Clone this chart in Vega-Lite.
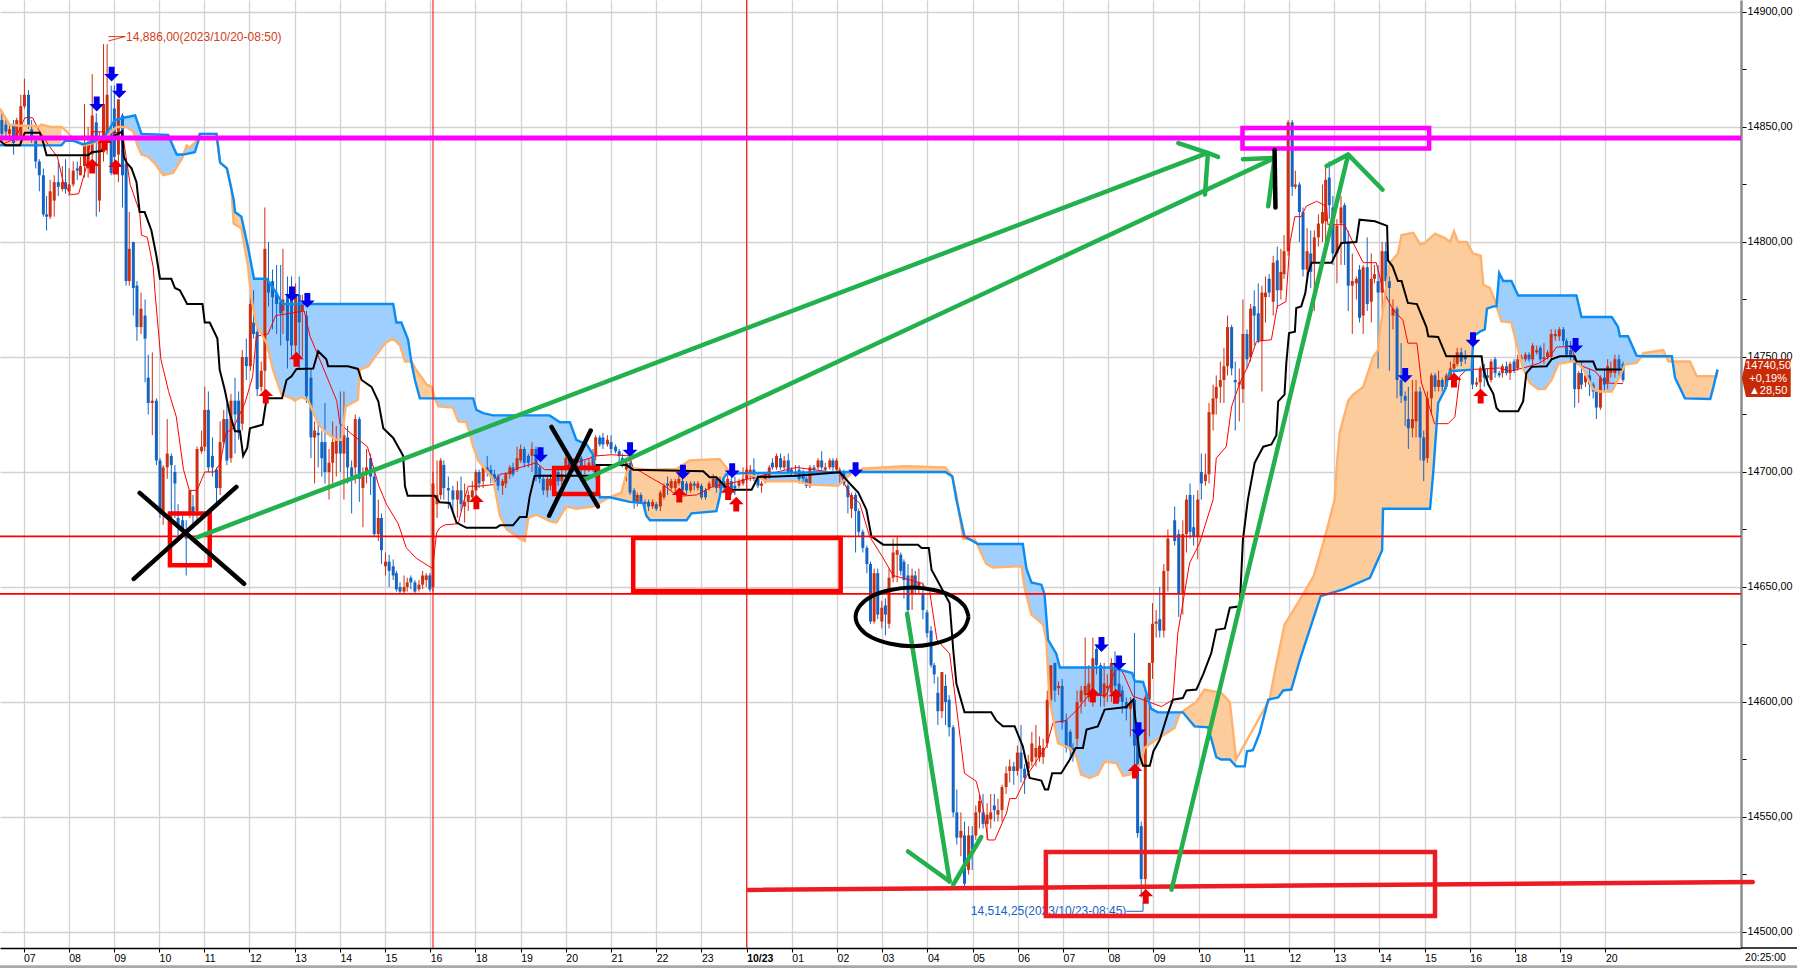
{"$schema":"https://vega.github.io/schema/vega-lite/v6.json","width":1741,"height":948,"autosize":"none","padding":{"left":0,"top":0,"right":56,"bottom":20},"background":"#ffffff","config":{"view":{"stroke":null}},
"datasets":{
"candles":[
{"t":-4.8,"o":14853,"c":14847,"h":14856,"l":14844},{"t":-3.9,"o":14851,"c":14848,"h":14853,"l":14845},{"t":-3.1,"o":14847,"c":14849,"h":14851,"l":14845},{"t":-2.2,"o":14851,"c":14843,"h":14853,"l":14838},{"t":-1.5,"o":14846,"c":14853,"h":14854,"l":14844},{"t":-0.6,"o":14845,"c":14859,"h":14864,"l":14842},{"t":0.2,"o":14859,"c":14864,"h":14871,"l":14858},{"t":1.1,"o":14864,"c":14850,"h":14866,"l":14849},{"t":1.8,"o":14849,"c":14846,"h":14853,"l":14843},{"t":2.7,"o":14844,"c":14835,"h":14846,"l":14832},{"t":3.5,"o":14835,"c":14829,"h":14836,"l":14822},{"t":4.4,"o":14829,"c":14812,"h":14832,"l":14811},{"t":5.1,"o":14812,"c":14811,"h":14820,"l":14805},{"t":5.9,"o":14811,"c":14822,"h":14827,"l":14810},{"t":6.8,"o":14818,"c":14826,"h":14829,"l":14811},{"t":7.7,"o":14826,"c":14824,"h":14835,"l":14820},{"t":8.6,"o":14823,"c":14826,"h":14833,"l":14822},{"t":9.3,"o":14826,"c":14823,"h":14836,"l":14821},{"t":10.1,"o":14822,"c":14825,"h":14832,"l":14820},{"t":11,"o":14825,"c":14831,"h":14835,"l":14824},{"t":11.9,"o":14832,"c":14831,"h":14835,"l":14827},{"t":12.6,"o":14829,"c":14833,"h":14837,"l":14829},{"t":13.5,"o":14833,"c":14843,"h":14860,"l":14828},{"t":14.3,"o":14832,"c":14842,"h":14850,"l":14828},{"t":15.2,"o":14838,"c":14855,"h":14873,"l":14835},{"t":16.1,"o":14852,"c":14846,"h":14856,"l":14811},{"t":16.8,"o":14818,"c":14846,"h":14848,"l":14813},{"t":17.7,"o":14839,"c":14860,"h":14886,"l":14835},{"t":18.5,"o":14848,"c":14864,"h":14886,"l":14838},{"t":19.4,"o":14848,"c":14830,"h":14868,"l":14829},{"t":20.1,"o":14858,"c":14837,"h":14868,"l":14835},{"t":21,"o":14838,"c":14862,"h":14862,"l":14826},{"t":21.9,"o":14855,"c":14829,"h":14856,"l":14815},{"t":22.7,"o":14834,"c":14783,"h":14835,"l":14781},
{"t":23.4,"o":14783,"c":14797,"h":14813,"l":14781},{"t":24.3,"o":14800,"c":14780,"h":14800,"l":14768},{"t":25.1,"o":14781,"c":14763,"h":14783,"l":14757},{"t":26,"o":14763,"c":14771,"h":14778,"l":14760},{"t":26.9,"o":14768,"c":14758,"h":14775,"l":14739},{"t":27.6,"o":14741,"c":14730,"h":14751,"l":14725},{"t":28.5,"o":14730,"c":14731,"h":14752,"l":14716},{"t":29.4,"o":14731,"c":14705,"h":14732,"l":14703},{"t":30.2,"o":14705,"c":14682,"h":14706,"l":14680},{"t":30.9,"o":14682,"c":14702,"h":14703,"l":14677},{"t":31.8,"o":14702,"c":14708,"h":14723,"l":14697},{"t":32.7,"o":14707,"c":14703,"h":14708,"l":14679},{"t":33.5,"o":14700,"c":14695,"h":14703,"l":14680},{"t":34.2,"o":14680,"c":14676,"h":14686,"l":14672},{"t":35.2,"o":14679,"c":14675,"h":14682,"l":14672},{"t":36,"o":14675,"c":14671,"h":14679,"l":14655},{"t":36.8,"o":14682,"c":14692,"h":14692,"l":14680},{"t":37.5,"o":14685,"c":14682,"h":14690,"l":14677},{"t":38.4,"o":14683,"c":14710,"h":14711,"l":14678},{"t":39.4,"o":14709,"c":14711,"h":14718,"l":14708},{"t":40.1,"o":14711,"c":14727,"h":14737,"l":14709},{"t":40.9,"o":14727,"c":14702,"h":14735,"l":14700},{"t":41.8,"o":14707,"c":14702,"h":14715,"l":14698},{"t":42.7,"o":14701,"c":14693,"h":14702,"l":14685},{"t":43.5,"o":14693,"c":14713,"h":14722,"l":14690},{"t":44.3,"o":14713,"c":14723,"h":14727,"l":14712},{"t":45,"o":14723,"c":14705,"h":14730,"l":14703},{"t":45.9,"o":14706,"c":14731,"h":14734,"l":14704},{"t":46.8,"o":14731,"c":14725,"h":14741,"l":14708},{"t":47.6,"o":14731,"c":14717,"h":14735,"l":14714},{"t":48.4,"o":14721,"c":14750,"h":14753,"l":14718},{"t":49.3,"o":14750,"c":14746,"h":14758,"l":14740},{"t":50.2,"o":14746,"c":14773,"h":14777,"l":14744},{"t":50.9,"o":14765,"c":14760,"h":14779,"l":14758},{"t":51.7,"o":14761,"c":14736,"h":14763,"l":14733},{"t":52.6,"o":14737,"c":14744,"h":14748,"l":14735},{"t":53.4,"o":14744,"c":14797,"h":14815,"l":14735},{"t":54.2,"o":14783,"c":14778,"h":14800,"l":14772},{"t":55.1,"o":14783,"c":14776,"h":14788,"l":14762},{"t":56,"o":14778,"c":14773,"h":14790,"l":14760},{"t":56.9,"o":14774,"c":14769,"h":14790,"l":14755},{"t":57.4,"o":14770,"c":14775,"h":14797,"l":14760},{"t":58.4,"o":14777,"c":14757,"h":14785,"l":14745},{"t":59.3,"o":14778,"c":14755,"h":14785,"l":14750},{"t":60.2,"o":14755,"c":14777,"h":14782,"l":14750},{"t":61,"o":14777,"c":14765,"h":14785,"l":14745},{"t":61.7,"o":14770,"c":14773,"h":14777,"l":14750},{"t":62.6,"o":14768,"c":14733,"h":14770,"l":14730},{"t":63.6,"o":14741,"c":14715,"h":14745,"l":14706},{"t":64.4,"o":14715,"c":14718,"h":14722,"l":14695},{"t":65.2,"o":14717,"c":14716,"h":14721,"l":14702},{"t":66,"o":14713,"c":14706,"h":14718,"l":14698},{"t":66.7,"o":14713,"c":14700,"h":14730,"l":14695},{"t":67.6,"o":14700,"c":14704,"h":14710,"l":14688},{"t":68.4,"o":14704,"c":14713,"h":14722,"l":14695},{"t":69.2,"o":14708,"c":14714,"h":14720,"l":14698},{"t":70.1,"o":14714,"c":14708,"h":14735,"l":14700},{"t":70.9,"o":14708,"c":14716,"h":14735,"l":14688},{"t":71.7,"o":14715,"c":14702,"h":14720,"l":14695},{"t":72.6,"o":14702,"c":14698,"h":14705,"l":14682},{"t":73.4,"o":14702,"c":14723,"h":14725,"l":14695},{"t":74.3,"o":14723,"c":14697,"h":14724,"l":14687},{"t":75.1,"o":14693,"c":14698,"h":14702,"l":14676},{"t":75.9,"o":14700,"c":14702,"h":14710,"l":14695},{"t":76.8,"o":14706,"c":14698,"h":14708,"l":14690},{"t":77.6,"o":14698,"c":14673,"h":14702,"l":14672},{"t":78.5,"o":14673,"c":14680,"h":14688,"l":14670},{"t":79.2,"o":14680,"c":14666,"h":14682,"l":14660},{"t":80.1,"o":14659,"c":14661,"h":14665,"l":14655},{"t":80.9,"o":14661,"c":14657,"h":14664,"l":14650},{"t":81.8,"o":14659,"c":14655,"h":14662,"l":14653},{"t":82.5,"o":14656,"c":14649,"h":14657,"l":14648},{"t":83.3,"o":14650,"c":14648,"h":14652,"l":14647},{"t":84.2,"o":14648,"c":14650,"h":14655,"l":14647},{"t":84.9,"o":14650,"c":14652,"h":14654,"l":14648},{"t":85.7,"o":14654,"c":14652,"h":14655,"l":14649},{"t":86.6,"o":14652,"c":14648,"h":14653,"l":14647},{"t":87.5,"o":14649,"c":14651,"h":14653,"l":14648},{"t":88.3,"o":14651,"c":14655,"h":14657,"l":14649},{"t":89.1,"o":14653,"c":14655,"h":14656,"l":14650},{"t":89.9,"o":14655,"c":14649,"h":14656,"l":14648},{"t":90.6,"o":14650,"c":14695,"h":14700,"l":14648},{"t":91.5,"o":14686,"c":14690,"h":14705,"l":14680},{"t":92.3,"o":14690,"c":14705,"h":14706,"l":14688},{"t":93,"o":14703,"c":14693,"h":14705,"l":14688},{"t":94,"o":14693,"c":14692,"h":14698,"l":14684},{"t":95,"o":14692,"c":14688,"h":14694,"l":14682},{"t":96,"o":14688,"c":14692,"h":14696,"l":14680},
{"t":96.8,"o":14692,"c":14686,"h":14698,"l":14683},{"t":97.6,"o":14685,"c":14687,"h":14695,"l":14678},{"t":98.4,"o":14687,"c":14690,"h":14692,"l":14683},{"t":99.3,"o":14689,"c":14692,"h":14696,"l":14688},{"t":100.1,"o":14692,"c":14700,"h":14701,"l":14690},{"t":100.8,"o":14700,"c":14695,"h":14701,"l":14693},{"t":101.7,"o":14696,"c":14702,"h":14703,"l":14693},{"t":102.6,"o":14702,"c":14700,"h":14707,"l":14698},{"t":103.4,"o":14701,"c":14698,"h":14703,"l":14695},{"t":104.2,"o":14699,"c":14697,"h":14701,"l":14692},{"t":105,"o":14698,"c":14694,"h":14699,"l":14692},{"t":106,"o":14694,"c":14696,"h":14697,"l":14690},{"t":106.7,"o":14695,"c":14699,"h":14700,"l":14693},{"t":107.6,"o":14699,"c":14702,"h":14703,"l":14697},{"t":108.3,"o":14702,"c":14699,"h":14704,"l":14698},{"t":109.2,"o":14701,"c":14706,"h":14711,"l":14700},{"t":110,"o":14705,"c":14710,"h":14712,"l":14704},{"t":110.8,"o":14710,"c":14704,"h":14711,"l":14702},{"t":111.7,"o":14707,"c":14704,"h":14708,"l":14702},{"t":112.5,"o":14707,"c":14710,"h":14713,"l":14700},{"t":113.4,"o":14710,"c":14699,"h":14711,"l":14696},{"t":114.2,"o":14702,"c":14697,"h":14703,"l":14695},{"t":115,"o":14697,"c":14692,"h":14698,"l":14690},{"t":115.9,"o":14692,"c":14697,"h":14698,"l":14689},{"t":116.6,"o":14694,"c":14697,"h":14699,"l":14692},{"t":117.5,"o":14697,"c":14700,"h":14702,"l":14695},{"t":118.3,"o":14700,"c":14696,"h":14701,"l":14694},{"t":119.1,"o":14696,"c":14699,"h":14701,"l":14693},{"t":120,"o":14701,"c":14706,"h":14708,"l":14698},{"t":120.8,"o":14706,"c":14702,"h":14707,"l":14700},{"t":121.7,"o":14702,"c":14704,"h":14706,"l":14700},{"t":122.5,"o":14704,"c":14706,"h":14708,"l":14700},{"t":123.4,"o":14706,"c":14701,"h":14707,"l":14699},{"t":124.2,"o":14701,"c":14703,"h":14705,"l":14699},{"t":125.1,"o":14702,"c":14704,"h":14706,"l":14700},{"t":126,"o":14702,"c":14707,"h":14710,"l":14700},{"t":126.6,"o":14707,"c":14715,"h":14716,"l":14705},{"t":127.5,"o":14715,"c":14712,"h":14716,"l":14711},{"t":128.2,"o":14715,"c":14712,"h":14717,"l":14710},{"t":129.2,"o":14712,"c":14714,"h":14716,"l":14711},{"t":130,"o":14713,"c":14710,"h":14716,"l":14708},{"t":131,"o":14711,"c":14709,"h":14712,"l":14708},{"t":131.8,"o":14709,"c":14707,"h":14710,"l":14703},{"t":132.5,"o":14706,"c":14704,"h":14708,"l":14702},{"t":133.4,"o":14701,"c":14704,"h":14705,"l":14696},{"t":134.2,"o":14704,"c":14691,"h":14706,"l":14690},{"t":135.1,"o":14692,"c":14687,"h":14693,"l":14684},{"t":135.8,"o":14687,"c":14690,"h":14691,"l":14685},{"t":136.6,"o":14690,"c":14687,"h":14691,"l":14686},{"t":137.5,"o":14687,"c":14686,"h":14688,"l":14684},{"t":138.3,"o":14687,"c":14685,"h":14688,"l":14683},{"t":139.2,"o":14685,"c":14687,"h":14688,"l":14684},{"t":140,"o":14686,"c":14684,"h":14687,"l":14683},{"t":140.9,"o":14685,"c":14691,"h":14692,"l":14683},{"t":141.7,"o":14689,"c":14694,"h":14695,"l":14688},{"t":142.5,"o":14695,"c":14694,"h":14698,"l":14690},{"t":143.3,"o":14693,"c":14696,"h":14697,"l":14692},{"t":144.2,"o":14693,"c":14696,"h":14697,"l":14691},{"t":145,"o":14695,"c":14697,"h":14700,"l":14694},{"t":145.8,"o":14696,"c":14692,"h":14697,"l":14690},{"t":146.7,"o":14695,"c":14692,"h":14696,"l":14690},{"t":147.6,"o":14692,"c":14695,"h":14696,"l":14691},{"t":148.4,"o":14695,"c":14694,"h":14696,"l":14692},{"t":149.2,"o":14693,"c":14695,"h":14696,"l":14692},{"t":150,"o":14694,"c":14689,"h":14695,"l":14688},{"t":150.9,"o":14692,"c":14689,"h":14693,"l":14688},{"t":151.7,"o":14693,"c":14695,"h":14696,"l":14692},{"t":152.6,"o":14694,"c":14697,"h":14699,"l":14693},{"t":153.3,"o":14697,"c":14693,"h":14698,"l":14691},{"t":154.1,"o":14693,"c":14696,"h":14698,"l":14692},{"t":155,"o":14696,"c":14693,"h":14697,"l":14692},{"t":155.8,"o":14693,"c":14697,"h":14701,"l":14692},{"t":156.6,"o":14696,"c":14692,"h":14698,"l":14690},{"t":157.4,"o":14694,"c":14693,"h":14698,"l":14690},{"t":158.3,"o":14694,"c":14696,"h":14697,"l":14693},{"t":159.2,"o":14695,"c":14697,"h":14702,"l":14694},{"t":160,"o":14697,"c":14701,"h":14702,"l":14696},{"t":160.8,"o":14698,"c":14701,"h":14703,"l":14696},{"t":161.6,"o":14701,"c":14697,"h":14706,"l":14696},{"t":162.5,"o":14698,"c":14694,"h":14699,"l":14693},{"t":163.3,"o":14694,"c":14695,"h":14696,"l":14691},{"t":164.1,"o":14696,"c":14699,"h":14700,"l":14695},{"t":165,"o":14698,"c":14702,"h":14703,"l":14697},{"t":165.7,"o":14704,"c":14702,"h":14706,"l":14701},{"t":166.6,"o":14702,"c":14707,"h":14708,"l":14701},{"t":167.5,"o":14706,"c":14702,"h":14708,"l":14701},{"t":168.3,"o":14702,"c":14705,"h":14707,"l":14701},{"t":169.2,"o":14705,"c":14700,"h":14708,"l":14699},{"t":169.9,"o":14701,"c":14700,"h":14702,"l":14698},{"t":170.8,"o":14699,"c":14700,"h":14703,"l":14698},{"t":171.6,"o":14701,"c":14697,"h":14703,"l":14695},{"t":172.5,"o":14700,"c":14697,"h":14701,"l":14695},{"t":173.2,"o":14697,"c":14694,"h":14698,"l":14693},{"t":174,"o":14694,"c":14702,"h":14703,"l":14693},{"t":174.9,"o":14702,"c":14701,"h":14703,"l":14700},{"t":175.8,"o":14702,"c":14705,"h":14706,"l":14701},{"t":176.6,"o":14705,"c":14702,"h":14709,"l":14701},{"t":177.4,"o":14701,"c":14702,"h":14704,"l":14700},{"t":178.4,"o":14702,"c":14705,"h":14706,"l":14701},{"t":179.1,"o":14705,"c":14702,"h":14706,"l":14700},{"t":179.9,"o":14701,"c":14705,"h":14706,"l":14700},{"t":180.6,"o":14700,"c":14701,"h":14702,"l":14695},{"t":181.5,"o":14700,"c":14695,"h":14701,"l":14694},{"t":182.4,"o":14694,"c":14689,"h":14695,"l":14682},{"t":183.2,"o":14684,"c":14690,"h":14691,"l":14680},{"t":184.1,"o":14690,"c":14683,"h":14691,"l":14665},
{"t":184.8,"o":14683,"c":14674,"h":14684,"l":14672},{"t":185.7,"o":14674,"c":14667,"h":14675,"l":14665},{"t":186.6,"o":14667,"c":14660,"h":14668,"l":14656},{"t":187.4,"o":14660,"c":14635,"h":14661,"l":14634},{"t":188.2,"o":14635,"c":14656,"h":14658,"l":14634},{"t":189,"o":14656,"c":14638,"h":14658,"l":14636},{"t":189.9,"o":14635,"c":14641,"h":14644,"l":14632},{"t":190.7,"o":14642,"c":14638,"h":14645,"l":14629},{"t":191.5,"o":14634,"c":14654,"h":14658,"l":14632},{"t":192.4,"o":14654,"c":14665,"h":14671,"l":14652},{"t":193.3,"o":14664,"c":14666,"h":14672,"l":14652},{"t":194.1,"o":14664,"c":14657,"h":14665,"l":14655},{"t":194.8,"o":14661,"c":14653,"h":14662,"l":14645},{"t":195.7,"o":14655,"c":14640,"h":14660,"l":14638},{"t":196.6,"o":14647,"c":14655,"h":14658,"l":14640},{"t":197.3,"o":14655,"c":14650,"h":14657,"l":14647},{"t":198.1,"o":14650,"c":14652,"h":14658,"l":14647},{"t":199,"o":14647,"c":14640,"h":14652,"l":14636},{"t":199.9,"o":14639,"c":14630,"h":14640,"l":14628},{"t":200.8,"o":14631,"c":14616,"h":14633,"l":14615},{"t":201.5,"o":14616,"c":14612,"h":14617,"l":14608},{"t":202.3,"o":14604,"c":14596,"h":14611,"l":14590},{"t":203.2,"o":14596,"c":14613,"h":14613,"l":14593},{"t":204,"o":14607,"c":14600,"h":14612,"l":14590},{"t":204.8,"o":14601,"c":14589,"h":14603,"l":14585},{"t":205.7,"o":14589,"c":14552,"h":14590,"l":14550},{"t":206.5,"o":14552,"c":14541,"h":14562,"l":14538},{"t":207.4,"o":14541,"c":14544,"h":14552,"l":14533},{"t":208.2,"o":14542,"c":14521,"h":14548,"l":14519},{"t":209.1,"o":14527,"c":14542,"h":14546,"l":14525},{"t":209.9,"o":14542,"c":14536,"h":14546,"l":14527},{"t":210.7,"o":14542,"c":14552,"h":14555,"l":14540},{"t":211.5,"o":14552,"c":14557,"h":14560,"l":14545},{"t":212.3,"o":14552,"c":14547,"h":14560,"l":14545},{"t":213.2,"o":14547,"c":14551,"h":14556,"l":14540},{"t":214,"o":14549,"c":14552,"h":14560,"l":14545},{"t":214.8,"o":14555,"c":14553,"h":14560,"l":14548},{"t":215.6,"o":14551,"c":14553,"h":14558,"l":14548},{"t":216.5,"o":14553,"c":14563,"h":14564,"l":14548},{"t":217.4,"o":14563,"c":14569,"h":14572,"l":14560},{"t":218.2,"o":14570,"c":14572,"h":14575,"l":14565},{"t":219.1,"o":14572,"c":14570,"h":14574,"l":14564},{"t":219.9,"o":14570,"c":14578,"h":14581,"l":14568},{"t":220.7,"o":14578,"c":14571,"h":14590,"l":14565},{"t":221.5,"o":14571,"c":14567,"h":14573,"l":14560},{"t":222.3,"o":14571,"c":14574,"h":14577,"l":14568},{"t":223.1,"o":14574,"c":14582,"h":14587,"l":14572},{"t":224,"o":14576,"c":14580,"h":14590,"l":14572},{"t":224.8,"o":14576,"c":14581,"h":14585,"l":14574},{"t":225.6,"o":14576,"c":14580,"h":14584,"l":14573},{"t":226.5,"o":14582,"c":14601,"h":14605,"l":14580},{"t":227.3,"o":14601,"c":14616,"h":14616,"l":14598},{"t":228.2,"o":14617,"c":14605,"h":14617,"l":14600},{"t":229,"o":14606,"c":14607,"h":14609,"l":14603},{"t":229.8,"o":14607,"c":14591,"h":14610,"l":14588},{"t":230.7,"o":14592,"c":14580,"h":14595,"l":14578},{"t":231.6,"o":14587,"c":14579,"h":14588,"l":14575},{"t":232.2,"o":14580,"c":14577,"h":14582,"l":14574},{"t":233.1,"o":14584,"c":14600,"h":14605,"l":14580},{"t":234,"o":14600,"c":14605,"h":14607,"l":14595},{"t":234.9,"o":14603,"c":14607,"h":14628,"l":14598},{"t":235.7,"o":14602,"c":14608,"h":14616,"l":14600},{"t":236.6,"o":14602,"c":14619,"h":14628,"l":14598},{"t":237.4,"o":14623,"c":14616,"h":14625,"l":14612},{"t":238.3,"o":14616,"c":14603,"h":14617,"l":14598},{"t":239.1,"o":14602,"c":14608,"h":14617,"l":14598},{"t":239.8,"o":14606,"c":14607,"h":14612,"l":14600},{"t":240.7,"o":14604,"c":14617,"h":14619,"l":14600},{"t":241.5,"o":14617,"c":14607,"h":14622,"l":14605},{"t":242.4,"o":14608,"c":14602,"h":14616,"l":14600},{"t":243.1,"o":14605,"c":14600,"h":14607,"l":14595},{"t":244,"o":14600,"c":14597,"h":14602,"l":14592},{"t":244.9,"o":14597,"c":14600,"h":14602,"l":14585},{"t":245.8,"o":14601,"c":14581,"h":14630,"l":14570},{"t":246.5,"o":14589,"c":14543,"h":14590,"l":14541},{"t":247.3,"o":14546,"c":14523,"h":14548,"l":14515},{"t":248.2,"o":14523,"c":14602,"h":14603,"l":14515},{"t":249.1,"o":14601,"c":14617,"h":14617,"l":14585},{"t":249.8,"o":14617,"c":14634,"h":14643,"l":14610},{"t":250.6,"o":14634,"c":14635,"h":14640,"l":14628},{"t":251.4,"o":14636,"c":14631,"h":14650,"l":14628},{"t":252.3,"o":14631,"c":14657,"h":14660,"l":14628},{"t":253.2,"o":14657,"c":14671,"h":14675,"l":14648},{"t":254.7,"o":14679,"c":14670,"h":14685,"l":14668},{"t":255.6,"o":14673,"c":14647,"h":14675,"l":14637},{"t":256.5,"o":14647,"c":14673,"h":14679,"l":14638},{"t":257.3,"o":14673,"c":14688,"h":14690,"l":14665},{"t":258.1,"o":14690,"c":14674,"h":14695,"l":14671},{"t":258.9,"o":14676,"c":14672,"h":14690,"l":14668},{"t":259.8,"o":14672,"c":14688,"h":14692,"l":14662},
{"t":260.6,"o":14700,"c":14695,"h":14708,"l":14688},{"t":261.5,"o":14696,"c":14699,"h":14708,"l":14694},{"t":262.3,"o":14699,"c":14726,"h":14730,"l":14695},{"t":263.2,"o":14725,"c":14732,"h":14738,"l":14718},{"t":263.9,"o":14732,"c":14737,"h":14742,"l":14725},{"t":264.8,"o":14737,"c":14740,"h":14748,"l":14730},{"t":265.6,"o":14740,"c":14746,"h":14754,"l":14730},{"t":266.4,"o":14746,"c":14763,"h":14768,"l":14742},{"t":267.3,"o":14763,"c":14745,"h":14764,"l":14742},{"t":268.1,"o":14740,"c":14739,"h":14748,"l":14718},{"t":269,"o":14738,"c":14739,"h":14745,"l":14722},{"t":269.8,"o":14736,"c":14760,"h":14775,"l":14730},{"t":270.7,"o":14760,"c":14749,"h":14762,"l":14745},{"t":271.5,"o":14750,"c":14771,"h":14773,"l":14748},{"t":272.3,"o":14772,"c":14768,"h":14779,"l":14755},{"t":273.2,"o":14769,"c":14757,"h":14782,"l":14756},{"t":274,"o":14757,"c":14778,"h":14781,"l":14735},{"t":274.8,"o":14776,"c":14778,"h":14785,"l":14765},{"t":275.6,"o":14784,"c":14778,"h":14786,"l":14776},{"t":276.5,"o":14774,"c":14791,"h":14794,"l":14768},{"t":277.4,"o":14792,"c":14779,"h":14798,"l":14771},{"t":278.2,"o":14779,"c":14787,"h":14797,"l":14775},{"t":278.9,"o":14786,"c":14796,"h":14803,"l":14784},{"t":279.8,"o":14796,"c":14852,"h":14853,"l":14794},{"t":280.7,"o":14852,"c":14824,"h":14853,"l":14820},{"t":281.4,"o":14824,"c":14825,"h":14831,"l":14823},{"t":282.3,"o":14825,"c":14813,"h":14826,"l":14800},{"t":283.1,"o":14813,"c":14788,"h":14815,"l":14785},{"t":284,"o":14788,"c":14796,"h":14806,"l":14785},{"t":284.8,"o":14795,"c":14787,"h":14805,"l":14780},{"t":285.6,"o":14791,"c":14802,"h":14805,"l":14770},{"t":286.5,"o":14802,"c":14808,"h":14812,"l":14798},{"t":287.4,"o":14808,"c":14813,"h":14825,"l":14800},{"t":288.1,"o":14809,"c":14827,"h":14833,"l":14800},{"t":288.9,"o":14828,"c":14816,"h":14835,"l":14810},{"t":289.7,"o":14815,"c":14795,"h":14820,"l":14790},{"t":290.6,"o":14795,"c":14807,"h":14810,"l":14782},{"t":291.5,"o":14808,"c":14815,"h":14820,"l":14790},{"t":292.3,"o":14816,"c":14800,"h":14817,"l":14790},{"t":293.1,"o":14800,"c":14781,"h":14805,"l":14770},{"t":294,"o":14781,"c":14783,"h":14795,"l":14760},{"t":294.9,"o":14782,"c":14784,"h":14785,"l":14775},{"t":295.6,"o":14788,"c":14767,"h":14790,"l":14765},{"t":296.4,"o":14768,"c":14789,"h":14790,"l":14760},{"t":297.3,"o":14789,"c":14773,"h":14802,"l":14770},{"t":298.2,"o":14774,"c":14784,"h":14795,"l":14765},{"t":298.9,"o":14784,"c":14786,"h":14790,"l":14782},{"t":299.7,"o":14783,"c":14778,"h":14790,"l":14745},
{"t":300.6,"o":14778,"c":14796,"h":14800,"l":14770},{"t":301.4,"o":14796,"c":14783,"h":14800,"l":14775},{"t":302.2,"o":14783,"c":14780,"h":14785,"l":14744},{"t":303,"o":14768,"c":14771,"h":14775,"l":14762},{"t":303.9,"o":14771,"c":14740,"h":14772,"l":14732},{"t":304.8,"o":14740,"c":14733,"h":14756,"l":14730},{"t":305.7,"o":14733,"c":14731,"h":14735,"l":14720},{"t":306.4,"o":14723,"c":14719,"h":14737,"l":14710},{"t":307.3,"o":14719,"c":14723,"h":14740,"l":14715},{"t":308.1,"o":14722,"c":14735,"h":14740,"l":14715},{"t":309,"o":14735,"c":14715,"h":14737,"l":14705},{"t":309.8,"o":14715,"c":14705,"h":14718,"l":14696},{"t":310.6,"o":14706,"c":14732,"h":14735,"l":14704},{"t":311.5,"o":14732,"c":14742,"h":14743,"l":14725},{"t":312.3,"o":14742,"c":14737,"h":14743,"l":14735},{"t":313.1,"o":14737,"c":14740,"h":14744,"l":14735},{"t":313.9,"o":14740,"c":14737,"h":14741,"l":14735},{"t":314.8,"o":14737,"c":14742,"h":14743,"l":14736},{"t":315.7,"o":14742,"c":14745,"h":14748,"l":14740},{"t":316.5,"o":14745,"c":14747,"h":14750,"l":14743},{"t":317.2,"o":14747,"c":14752,"h":14754,"l":14746},{"t":318.1,"o":14752,"c":14748,"h":14754,"l":14746},{"t":319,"o":14750,"c":14749,"h":14753,"l":14747},{"t":320.6,"o":14750,"c":14738,"h":14750,"l":14736},{"t":321.5,"o":14738,"c":14739,"h":14741,"l":14737},{"t":322.3,"o":14739,"c":14745,"h":14746,"l":14735},{"t":323.2,"o":14745,"c":14741,"h":14747,"l":14737},{"t":323.9,"o":14742,"c":14741,"h":14745,"l":14738},{"t":324.7,"o":14740,"c":14748,"h":14749,"l":14739},{"t":325.6,"o":14749,"c":14743,"h":14750,"l":14741},{"t":326.5,"o":14743,"c":14742,"h":14744,"l":14741},{"t":327.2,"o":14743,"c":14746,"h":14747,"l":14741},{"t":328.1,"o":14746,"c":14743,"h":14748,"l":14742},{"t":328.9,"o":14743,"c":14747,"h":14748,"l":14740},{"t":329.8,"o":14748,"c":14744,"h":14749,"l":14743},{"t":330.6,"o":14745,"c":14749,"h":14751,"l":14744},{"t":331.4,"o":14749,"c":14750,"h":14751,"l":14748},{"t":332.3,"o":14749,"c":14751,"h":14752,"l":14748},{"t":333.1,"o":14751,"c":14749,"h":14752,"l":14748},{"t":333.9,"o":14749,"c":14755,"h":14756,"l":14746},{"t":334.8,"o":14752,"c":14753,"h":14755,"l":14751},{"t":335.6,"o":14754,"c":14749,"h":14755,"l":14748},{"t":336.4,"o":14749,"c":14750,"h":14756,"l":14747},{"t":337.2,"o":14750,"c":14752,"h":14753,"l":14749},{"t":338,"o":14750,"c":14760,"h":14762,"l":14749},{"t":338.9,"o":14759,"c":14760,"h":14762,"l":14757},{"t":339.8,"o":14759,"c":14762,"h":14763,"l":14757},{"t":340.7,"o":14762,"c":14757,"h":14763,"l":14755},{"t":341.4,"o":14757,"c":14751,"h":14758,"l":14750},{"t":342.3,"o":14753,"c":14750,"h":14757,"l":14748},{"t":343.2,"o":14750,"c":14736,"h":14751,"l":14728},{"t":344.1,"o":14736,"c":14743,"h":14744,"l":14730},{"t":344.7,"o":14743,"c":14738,"h":14748,"l":14736},{"t":345.6,"o":14739,"c":14742,"h":14743,"l":14737},{"t":346.5,"o":14742,"c":14738,"h":14745,"l":14733},{"t":347.3,"o":14738,"c":14735,"h":14739,"l":14732},{"t":348,"o":14735,"c":14728,"h":14735,"l":14723},{"t":348.9,"o":14728,"c":14741,"h":14742,"l":14727},{"t":349.8,"o":14741,"c":14738,"h":14745,"l":14735},{"t":350.5,"o":14739,"c":14746,"h":14749,"l":14736},{"t":351.2,"o":14743,"c":14745,"h":14748,"l":14741},{"t":352.1,"o":14743,"c":14749,"h":14751,"l":14741},{"t":353,"o":14749,"c":14745,"h":14751,"l":14742},{"t":353.9,"o":14747,"c":14740,"h":14748,"l":14739}],
"cloud":[
{"s":"A","seg":"O1","t":-5.2,"p":14858},{"s":"A","seg":"O1","t":-3.1,"p":14851},{"s":"A","seg":"O1","t":-0.8,"p":14850.5},{"s":"A","seg":"O1","t":2,"p":14850.5},{"s":"A","seg":"O1","t":3.3,"p":14850},{"s":"A","seg":"O1","t":4,"p":14851},{"s":"A","seg":"O1","t":5.9,"p":14850},{"s":"A","seg":"O1","t":8.4,"p":14850},{"s":"A","seg":"","t":9.6,"p":14848},{"s":"A","seg":"","t":11.4,"p":14844},{"s":"A","seg":"","t":13.2,"p":14842},{"s":"A","seg":"","t":15.4,"p":14843},{"s":"A","seg":"","t":17.7,"p":14845},{"s":"A","seg":"","t":19.5,"p":14848},
{"s":"A","seg":"B1","t":20.6,"p":14850},{"s":"A","seg":"B1","t":22.8,"p":14850},{"s":"A","seg":"B1","t":24.3,"p":14848},{"s":"A","seg":"B1","t":25.2,"p":14842},{"s":"A","seg":"B1","t":26.1,"p":14838},{"s":"A","seg":"B1","t":27.6,"p":14837},{"s":"A","seg":"B1","t":29.1,"p":14834},{"s":"A","seg":"B1","t":30.9,"p":14829},{"s":"A","seg":"B1","t":33.1,"p":14830},{"s":"A","seg":"B1","t":35,"p":14836},{"s":"A","seg":"B1","t":36.1,"p":14842},{"s":"A","seg":"B1","t":36.8,"p":14841},{"s":"A","seg":"B1","t":38.3,"p":14844},{"s":"A","seg":"B1","t":39,"p":14847},{"s":"A","seg":"","t":42.7,"p":14847},{"s":"A","seg":"","t":43.5,"p":14834.5},{"s":"A","seg":"","t":45,"p":14832},{"s":"A","seg":"","t":46,"p":14823},
{"s":"A","seg":"O9","t":46.5,"p":14808},{"s":"A","seg":"O9","t":48.2,"p":14806},{"s":"A","seg":"O9","t":49.7,"p":14789},
{"s":"A","seg":"B2","t":49.7,"p":14789},{"s":"A","seg":"B2","t":50.4,"p":14776},{"s":"A","seg":"B2","t":51.5,"p":14764},{"s":"A","seg":"B2","t":53.8,"p":14756},{"s":"A","seg":"B2","t":55.2,"p":14744.5},{"s":"A","seg":"B2","t":57.1,"p":14733.6},{"s":"A","seg":"B2","t":59.3,"p":14732},{"s":"A","seg":"B2","t":60,"p":14731},{"s":"A","seg":"B2","t":61.5,"p":14732.6},{"s":"A","seg":"B2","t":63,"p":14731},{"s":"A","seg":"B2","t":65.2,"p":14721},{"s":"A","seg":"B2","t":67,"p":14717},{"s":"A","seg":"B2","t":69.2,"p":14714},{"s":"A","seg":"B2","t":70.4,"p":14714},{"s":"A","seg":"B2","t":71.3,"p":14728.5},{"s":"A","seg":"B2","t":74,"p":14731.4},{"s":"A","seg":"B2","t":74.4,"p":14744.5},{"s":"A","seg":"B2","t":76.3,"p":14746},{"s":"A","seg":"B2","t":78.1,"p":14751},{"s":"A","seg":"B2","t":80,"p":14756},{"s":"A","seg":"B2","t":81.8,"p":14758},{"s":"A","seg":"B2","t":83.3,"p":14755},{"s":"A","seg":"B2","t":84.4,"p":14748},{"s":"A","seg":"B2","t":85.8,"p":14748},
{"s":"A","seg":"O2","t":85.8,"p":14748},{"s":"A","seg":"O2","t":87,"p":14744},{"s":"A","seg":"O2","t":89.2,"p":14738},{"s":"A","seg":"O2","t":90.3,"p":14737},{"s":"A","seg":"O2","t":91,"p":14732},
{"s":"A","seg":"B3","t":91,"p":14732},{"s":"A","seg":"B3","t":91.8,"p":14728.5},{"s":"A","seg":"B3","t":95,"p":14728},{"s":"A","seg":"B3","t":96.2,"p":14722},{"s":"A","seg":"B3","t":98,"p":14721.6},{"s":"A","seg":"B3","t":99.5,"p":14711},{"s":"A","seg":"B3","t":100.6,"p":14705},{"s":"A","seg":"B3","t":103.9,"p":14697},{"s":"A","seg":"B3","t":105.4,"p":14681},{"s":"A","seg":"B3","t":106.9,"p":14675},{"s":"A","seg":"B3","t":109.8,"p":14671},{"s":"A","seg":"B3","t":110.9,"p":14670},{"s":"A","seg":"B3","t":111.7,"p":14680},{"s":"A","seg":"B3","t":113.5,"p":14681.4},{"s":"A","seg":"B3","t":116.4,"p":14678.6},{"s":"A","seg":"B3","t":117.9,"p":14678},{"s":"A","seg":"B3","t":120.1,"p":14685},{"s":"A","seg":"B3","t":122.3,"p":14684},{"s":"A","seg":"B3","t":126,"p":14685},{"s":"A","seg":"B3","t":129.7,"p":14689},
{"s":"A","seg":"O3","t":129.7,"p":14689},{"s":"A","seg":"O3","t":132.3,"p":14691},{"s":"A","seg":"O3","t":133.4,"p":14699.6},{"s":"A","seg":"O3","t":134.1,"p":14701.7},{"s":"A","seg":"O3","t":138.6,"p":14701},{"s":"A","seg":"O3","t":144.5,"p":14701.3},{"s":"A","seg":"O3","t":147.4,"p":14705},{"s":"A","seg":"O3","t":154,"p":14705.6},{"s":"A","seg":"O3","t":155.9,"p":14701},{"s":"A","seg":"O3","t":159.2,"p":14699.5},
{"s":"A","seg":"B4","t":159.2,"p":14699.5},{"s":"A","seg":"B4","t":162.2,"p":14698},{"s":"A","seg":"B4","t":164.4,"p":14696},{"s":"A","seg":"B4","t":171,"p":14696},{"s":"A","seg":"B4","t":174,"p":14694.5},{"s":"A","seg":"B4","t":180.2,"p":14694},{"s":"A","seg":"B4","t":182.4,"p":14698},{"s":"A","seg":"B4","t":183.5,"p":14700},
{"s":"A","seg":"O4","t":183.5,"p":14700},{"s":"A","seg":"O4","t":186,"p":14701.5},{"s":"A","seg":"O4","t":195,"p":14702.5},{"s":"A","seg":"O4","t":204,"p":14702},{"s":"A","seg":"O4","t":205.5,"p":14698},{"s":"A","seg":"","t":206.4,"p":14690},
{"s":"A","seg":"B5","t":207.9,"p":14671},{"s":"A","seg":"B5","t":210.5,"p":14670.6},{"s":"A","seg":"B5","t":213,"p":14660},{"s":"A","seg":"B5","t":214.5,"p":14658.5},{"s":"A","seg":"B5","t":220.8,"p":14659},{"s":"A","seg":"B5","t":221.5,"p":14649.6},{"s":"A","seg":"B5","t":223,"p":14638},{"s":"A","seg":"B5","t":225.6,"p":14633.6},{"s":"A","seg":"B5","t":226.3,"p":14627},{"s":"A","seg":"B5","t":227,"p":14601},{"s":"A","seg":"B5","t":228.9,"p":14582},{"s":"A","seg":"B5","t":231.5,"p":14580},{"s":"A","seg":"B5","t":233,"p":14576},{"s":"A","seg":"B5","t":234,"p":14568.4},{"s":"A","seg":"B5","t":235.9,"p":14567},{"s":"A","seg":"B5","t":237.7,"p":14568.4},{"s":"A","seg":"B5","t":239.2,"p":14574},{"s":"A","seg":"B5","t":241.8,"p":14573.5},{"s":"A","seg":"B5","t":243.3,"p":14568},{"s":"A","seg":"B5","t":244.8,"p":14568.4},{"s":"A","seg":"B5","t":247.3,"p":14573.5},{"s":"A","seg":"B5","t":248,"p":14580},{"s":"A","seg":"B5","t":250.6,"p":14583.6},{"s":"A","seg":"B5","t":254.7,"p":14588.7},{"s":"A","seg":"B5","t":255.8,"p":14595},
{"s":"A","seg":"O5","t":255.8,"p":14595},{"s":"A","seg":"O5","t":259.5,"p":14600},{"s":"A","seg":"O5","t":261.3,"p":14605.4},{"s":"A","seg":"O5","t":265,"p":14604},{"s":"A","seg":"O5","t":266.9,"p":14600},{"s":"A","seg":"O5","t":268.3,"p":14575},
{"s":"A","seg":"O6","t":275.7,"p":14601},{"s":"A","seg":"O6","t":276.8,"p":14612.6},{"s":"A","seg":"O6","t":279,"p":14633.6},{"s":"A","seg":"O6","t":282.4,"p":14644.5},{"s":"A","seg":"O6","t":285.5,"p":14655},{"s":"A","seg":"O6","t":288,"p":14672},{"s":"A","seg":"O6","t":290.1,"p":14688},{"s":"A","seg":"O6","t":290.5,"p":14701},{"s":"A","seg":"O6","t":291.2,"p":14717},{"s":"A","seg":"O6","t":293.1,"p":14731},{"s":"A","seg":"O6","t":294.2,"p":14733.6},{"s":"A","seg":"O6","t":296.4,"p":14737},{"s":"A","seg":"O6","t":298.6,"p":14750},{"s":"A","seg":"O6","t":299.7,"p":14753},{"s":"A","seg":"O6","t":300.1,"p":14761},{"s":"A","seg":"O6","t":302.3,"p":14791},{"s":"A","seg":"O6","t":304.1,"p":14795},{"s":"A","seg":"O6","t":304.9,"p":14803},{"s":"A","seg":"O6","t":307.5,"p":14804},{"s":"A","seg":"O6","t":309,"p":14799},{"s":"A","seg":"O6","t":310,"p":14799.5},{"s":"A","seg":"O6","t":312.3,"p":14803.6},{"s":"A","seg":"O6","t":314.5,"p":14801.7},{"s":"A","seg":"O6","t":315.6,"p":14800},{"s":"A","seg":"O6","t":316.5,"p":14804.6},{"s":"A","seg":"O6","t":317.4,"p":14800},{"s":"A","seg":"O6","t":319.3,"p":14800},{"s":"A","seg":"O6","t":320.7,"p":14795},{"s":"A","seg":"O6","t":322.4,"p":14794},{"s":"A","seg":"O6","t":323,"p":14781.4},{"s":"A","seg":"O6","t":324.4,"p":14780},{"s":"A","seg":"O6","t":325.5,"p":14775},{"s":"A","seg":"O6","t":325.9,"p":14772},
{"s":"A","seg":"B6","t":325.9,"p":14772},{"s":"A","seg":"B6","t":327,"p":14765.5},{"s":"A","seg":"B6","t":329.2,"p":14765},{"s":"A","seg":"B6","t":330.3,"p":14756},{"s":"A","seg":"B6","t":331.8,"p":14745},{"s":"A","seg":"B6","t":333.3,"p":14738.7},{"s":"A","seg":"B6","t":335.1,"p":14736},{"s":"A","seg":"B6","t":336.6,"p":14736},{"s":"A","seg":"B6","t":338.1,"p":14740},{"s":"A","seg":"B6","t":339.6,"p":14747},{"s":"A","seg":"B6","t":342.5,"p":14748},{"s":"A","seg":"B6","t":343.5,"p":14748},{"s":"A","seg":"B6","t":345,"p":14745},{"s":"A","seg":"B6","t":347.3,"p":14736},{"s":"A","seg":"B6","t":348.8,"p":14735},{"s":"A","seg":"B6","t":351.4,"p":14735},{"s":"A","seg":"B6","t":353.2,"p":14741.6},{"s":"A","seg":"B6","t":354.3,"p":14746.7},{"s":"A","seg":"B6","t":356.9,"p":14747.4},{"s":"A","seg":"B6","t":358,"p":14750.3},
{"s":"A","seg":"O7","t":358,"p":14750.3},{"s":"A","seg":"O7","t":358.4,"p":14751.7},{"s":"A","seg":"O7","t":362.8,"p":14753},{"s":"A","seg":"O7","t":363.4,"p":14750.3},
{"s":"A","seg":"O8","t":363.4,"p":14750.3},{"s":"A","seg":"O8","t":364,"p":14748},{"s":"A","seg":"O8","t":368.7,"p":14748},{"s":"A","seg":"O8","t":370.2,"p":14741.6},{"s":"A","seg":"O8","t":374.6,"p":14741.6},{"s":"A","seg":"O8","t":374.8,"p":14744.5},
{"s":"B","seg":"O1","t":-5.2,"p":14842},{"s":"B","seg":"O1","t":8.4,"p":14842},{"s":"B","seg":"","t":9.2,"p":14844},{"s":"B","seg":"","t":11,"p":14844},{"s":"B","seg":"","t":13.2,"p":14842.5},{"s":"B","seg":"","t":15.4,"p":14843.5},{"s":"B","seg":"","t":18,"p":14846},
{"s":"B","seg":"B1","t":20.2,"p":14853},{"s":"B","seg":"B1","t":22.1,"p":14854},{"s":"B","seg":"B1","t":24.7,"p":14855},{"s":"B","seg":"B1","t":26.1,"p":14847},{"s":"B","seg":"B1","t":32,"p":14846.5},{"s":"B","seg":"B1","t":33.9,"p":14838},{"s":"B","seg":"B1","t":35.4,"p":14838},{"s":"B","seg":"B1","t":37.9,"p":14839},{"s":"B","seg":"B1","t":38.7,"p":14844},{"s":"B","seg":"B1","t":39,"p":14847},{"s":"B","seg":"","t":42.7,"p":14847},{"s":"B","seg":"","t":43.5,"p":14834.5},{"s":"B","seg":"","t":45,"p":14832},{"s":"B","seg":"","t":46,"p":14823},
{"s":"B","seg":"O9","t":46.5,"p":14818.4},{"s":"B","seg":"O9","t":46.8,"p":14813},{"s":"B","seg":"O9","t":48.2,"p":14811},{"s":"B","seg":"O9","t":49.7,"p":14797.4},
{"s":"B","seg":"B2","t":49.7,"p":14797.4},{"s":"B","seg":"B2","t":51,"p":14784},{"s":"B","seg":"B2","t":53.8,"p":14784},{"s":"B","seg":"B2","t":55.2,"p":14780},{"s":"B","seg":"B2","t":57.4,"p":14773},{"s":"B","seg":"B2","t":81.8,"p":14773},{"s":"B","seg":"B2","t":82.5,"p":14765},{"s":"B","seg":"B2","t":83.6,"p":14765},{"s":"B","seg":"B2","t":85.1,"p":14757.5},{"s":"B","seg":"B2","t":85.8,"p":14748},
{"s":"B","seg":"O2","t":85.8,"p":14748},{"s":"B","seg":"O2","t":86.6,"p":14740},{"s":"B","seg":"O2","t":87.7,"p":14732},{"s":"B","seg":"O2","t":91,"p":14732},
{"s":"B","seg":"B3","t":91,"p":14732},{"s":"B","seg":"B3","t":99.5,"p":14732},{"s":"B","seg":"B3","t":100.2,"p":14727},{"s":"B","seg":"B3","t":101.7,"p":14725.6},{"s":"B","seg":"B3","t":103.9,"p":14724.6},{"s":"B","seg":"B3","t":116.4,"p":14724.6},{"s":"B","seg":"B3","t":118.7,"p":14721.6},{"s":"B","seg":"B3","t":120.9,"p":14721.6},{"s":"B","seg":"B3","t":122.3,"p":14714},{"s":"B","seg":"B3","t":124.6,"p":14712},{"s":"B","seg":"B3","t":126,"p":14707.5},{"s":"B","seg":"B3","t":126.8,"p":14698},{"s":"B","seg":"B3","t":127.5,"p":14689},{"s":"B","seg":"B3","t":129.7,"p":14689},
{"s":"B","seg":"O3","t":129.7,"p":14689},{"s":"B","seg":"O3","t":134.1,"p":14687},{"s":"B","seg":"O3","t":137.1,"p":14686.5},{"s":"B","seg":"O3","t":137.8,"p":14681},{"s":"B","seg":"O3","t":138.6,"p":14679},{"s":"B","seg":"O3","t":146.7,"p":14679},{"s":"B","seg":"O3","t":147.8,"p":14682},{"s":"B","seg":"O3","t":153.3,"p":14683},{"s":"B","seg":"O3","t":154,"p":14689},{"s":"B","seg":"O3","t":154.8,"p":14697},{"s":"B","seg":"O3","t":155.5,"p":14699},{"s":"B","seg":"O3","t":159.2,"p":14699.5},
{"s":"B","seg":"B4","t":159.2,"p":14699.5},{"s":"B","seg":"B4","t":162.2,"p":14699.6},{"s":"B","seg":"B4","t":183.5,"p":14700},
{"s":"B","seg":"O4","t":183.5,"p":14700},{"s":"B","seg":"O4","t":204,"p":14700},{"s":"B","seg":"O4","t":205.5,"p":14698},{"s":"B","seg":"","t":206.4,"p":14688},
{"s":"B","seg":"B5","t":208.2,"p":14672},{"s":"B","seg":"B5","t":211.2,"p":14668.7},{"s":"B","seg":"B5","t":221.1,"p":14668.7},{"s":"B","seg":"B5","t":221.9,"p":14658},{"s":"B","seg":"B5","t":223,"p":14652},{"s":"B","seg":"B5","t":225.2,"p":14651},{"s":"B","seg":"B5","t":225.9,"p":14647},{"s":"B","seg":"B5","t":226.3,"p":14637},{"s":"B","seg":"B5","t":226.7,"p":14627},{"s":"B","seg":"B5","t":228.5,"p":14621},{"s":"B","seg":"B5","t":229.3,"p":14615},{"s":"B","seg":"B5","t":240.3,"p":14615},{"s":"B","seg":"B5","t":242.5,"p":14614},{"s":"B","seg":"B5","t":245.3,"p":14612.6},{"s":"B","seg":"B5","t":245.9,"p":14609},{"s":"B","seg":"B5","t":247.7,"p":14608.7},{"s":"B","seg":"B5","t":249.5,"p":14597},{"s":"B","seg":"B5","t":251,"p":14595.5},{"s":"B","seg":"B5","t":255.8,"p":14595.5},
{"s":"B","seg":"O5","t":255.8,"p":14595.5},{"s":"B","seg":"O5","t":256.5,"p":14595.5},{"s":"B","seg":"O5","t":259.1,"p":14589.4},{"s":"B","seg":"O5","t":262.1,"p":14589},{"s":"B","seg":"O5","t":263.9,"p":14576},{"s":"B","seg":"O5","t":265,"p":14575},{"s":"B","seg":"O5","t":266.9,"p":14575},{"s":"B","seg":"O5","t":268.3,"p":14572},{"s":"B","seg":"","t":270.2,"p":14572},{"s":"B","seg":"","t":270.7,"p":14578.6},{"s":"B","seg":"","t":272,"p":14579},{"s":"B","seg":"","t":273.5,"p":14586.5},
{"s":"B","seg":"O6","t":275.4,"p":14601},{"s":"B","seg":"O6","t":277.6,"p":14602},{"s":"B","seg":"O6","t":278.7,"p":14605},{"s":"B","seg":"O6","t":280.5,"p":14605.4},{"s":"B","seg":"O6","t":282.5,"p":14619},{"s":"B","seg":"O6","t":287,"p":14646},{"s":"B","seg":"O6","t":292,"p":14649},{"s":"B","seg":"O6","t":297.9,"p":14654},{"s":"B","seg":"O6","t":300.6,"p":14666},{"s":"B","seg":"O6","t":300.8,"p":14684},{"s":"B","seg":"O6","t":311.2,"p":14684},{"s":"B","seg":"O6","t":311.9,"p":14699.6},{"s":"B","seg":"O6","t":313,"p":14730},{"s":"B","seg":"O6","t":314.5,"p":14735.8},{"s":"B","seg":"O6","t":315.6,"p":14743.8},{"s":"B","seg":"O6","t":320.4,"p":14744.5},{"s":"B","seg":"O6","t":320.8,"p":14759},{"s":"B","seg":"O6","t":322.2,"p":14761},{"s":"B","seg":"O6","t":323.3,"p":14762},{"s":"B","seg":"O6","t":323.8,"p":14771},{"s":"B","seg":"O6","t":325.2,"p":14772},{"s":"B","seg":"O6","t":325.9,"p":14772},
{"s":"B","seg":"B6","t":325.9,"p":14772},{"s":"B","seg":"B6","t":326.5,"p":14786.5},{"s":"B","seg":"B6","t":327.4,"p":14783},{"s":"B","seg":"B6","t":329.2,"p":14783},{"s":"B","seg":"B6","t":330.7,"p":14776.7},{"s":"B","seg":"B6","t":343.6,"p":14776.7},{"s":"B","seg":"B6","t":344.7,"p":14767.4},{"s":"B","seg":"B6","t":351.4,"p":14767.4},{"s":"B","seg":"B6","t":352.8,"p":14763},{"s":"B","seg":"B6","t":353.2,"p":14759},{"s":"B","seg":"B6","t":355,"p":14759},{"s":"B","seg":"B6","t":356.9,"p":14750.6},{"s":"B","seg":"B6","t":358,"p":14750.3},
{"s":"B","seg":"O7","t":358,"p":14750.3},{"s":"B","seg":"O7","t":363.4,"p":14750.3},
{"s":"B","seg":"O8","t":363.4,"p":14750.3},{"s":"B","seg":"O8","t":364.7,"p":14750.3},{"s":"B","seg":"O8","t":365.4,"p":14741},{"s":"B","seg":"O8","t":367.6,"p":14732},{"s":"B","seg":"O8","t":373.2,"p":14731.7},{"s":"B","seg":"O8","t":373.9,"p":14737},{"s":"B","seg":"O8","t":374.8,"p":14744.5}],
"kijun":[{"t":-5.2,"p":14844},{"t":-4,"p":14842},{"t":-0.8,"p":14842},{"t":0.3,"p":14847.5},{"t":3.6,"p":14847.5},{"t":4.4,"p":14843},{"t":5.1,"p":14837.7},{"t":14.3,"p":14837.7},{"t":15.1,"p":14839},{"t":17.3,"p":14839.5},{"t":18,"p":14843},{"t":20,"p":14846},{"t":21.8,"p":14848},{"t":22.2,"p":14837},{"t":22.8,"p":14834.5},{"t":23.9,"p":14832},{"t":25,"p":14826},{"t":25.7,"p":14813},{"t":26.8,"p":14813},{"t":28.3,"p":14805},{"t":29.4,"p":14794},{"t":30.2,"p":14784},{"t":32.7,"p":14784},{"t":33.5,"p":14780},{"t":34.6,"p":14779},{"t":36.2,"p":14773},{"t":39.6,"p":14773},{"t":40.1,"p":14765},{"t":41.2,"p":14765},{"t":42.9,"p":14758},{"t":43.4,"p":14744.5},{"t":44.5,"p":14736},{"t":45.6,"p":14725.6},{"t":46.8,"p":14717.7},{"t":47.9,"p":14717.7},{"t":48.6,"p":14707},{"t":49.5,"p":14710.4},{"t":50.1,"p":14719},{"t":52.9,"p":14720.6},{"t":53.8,"p":14732},{"t":57.2,"p":14732},{"t":58.2,"p":14740},{"t":59.3,"p":14741.6},{"t":60.4,"p":14744.8},{"t":64.1,"p":14745},{"t":65.2,"p":14752.5},{"t":67,"p":14749},{"t":67.4,"p":14746},{"t":71.8,"p":14746},{"t":74,"p":14744.8},{"t":74.8,"p":14740},{"t":77,"p":14737},{"t":78.5,"p":14730.7},{"t":79.6,"p":14719},{"t":81.8,"p":14714.8},{"t":84,"p":14707},{"t":84.4,"p":14693.8},{"t":85,"p":14689.7},{"t":91,"p":14689.7},{"t":92.1,"p":14686.8},{"t":94.3,"p":14686.5},{"t":95.8,"p":14678},{"t":98,"p":14675.7},{"t":104.6,"p":14675.7},{"t":105.4,"p":14676.8},{"t":108.3,"p":14676.8},{"t":109.8,"p":14680.4},{"t":111.3,"p":14680.4},{"t":112,"p":14689.4},{"t":113.1,"p":14698.4},{"t":126.4,"p":14698.4},{"t":126.8,"p":14703},{"t":133.4,"p":14703},{"t":134.9,"p":14701},{"t":150.4,"p":14700.3},{"t":151.8,"p":14697.7},{"t":153.3,"p":14697.7},{"t":155.2,"p":14693.8},{"t":156.3,"p":14692.3},{"t":161.1,"p":14692.3},{"t":162.5,"p":14697.8},{"t":171,"p":14698.4},{"t":180.6,"p":14699.9},{"t":182.8,"p":14695},{"t":184.7,"p":14691},{"t":186.5,"p":14683.6},{"t":187.6,"p":14672},{"t":190.2,"p":14668.4},{"t":197.9,"p":14668.4},{"t":198.7,"p":14667},{"t":200.3,"p":14667},{"t":200.9,"p":14657.5},{"t":204.9,"p":14643},{"t":205.7,"p":14622.8},{"t":206.4,"p":14608},{"t":208.2,"p":14595.5},{"t":214.1,"p":14595.5},{"t":215.2,"p":14592},{"t":216.7,"p":14589.4},{"t":219.3,"p":14589.4},{"t":221.1,"p":14580.7},{"t":222.6,"p":14567},{"t":225.2,"p":14565.8},{"t":226,"p":14562},{"t":226.7,"p":14562},{"t":227.6,"p":14569},{"t":229.6,"p":14569},{"t":231.5,"p":14575},{"t":232.8,"p":14580},{"t":234.4,"p":14580},{"t":235.2,"p":14588},{"t":237.7,"p":14589.4},{"t":239.2,"p":14596.7},{"t":244,"p":14597.8},{"t":245.5,"p":14601},{"t":247,"p":14576.4},{"t":247.7,"p":14572.3},{"t":249.2,"p":14572.3},{"t":250,"p":14578.6},{"t":251.4,"p":14583.6},{"t":253.2,"p":14595},{"t":254.3,"p":14601},{"t":256.5,"p":14601.7},{"t":257.3,"p":14605},{"t":259.5,"p":14605.4},{"t":261,"p":14612},{"t":262.8,"p":14621.3},{"t":263.9,"p":14631.4},{"t":265.8,"p":14632},{"t":266.9,"p":14641},{"t":269.1,"p":14641.6},{"t":269.8,"p":14670.6},{"t":270.9,"p":14688},{"t":272.4,"p":14704},{"t":274.3,"p":14711},{"t":276.1,"p":14712},{"t":277.2,"p":14716},{"t":277.6,"p":14730.7},{"t":279,"p":14733.6},{"t":279.4,"p":14747.4},{"t":280,"p":14760.4},{"t":281.3,"p":14761},{"t":281.6,"p":14771.3},{"t":282.7,"p":14772},{"t":283.6,"p":14777.8},{"t":284.2,"p":14786.5},{"t":285,"p":14791},{"t":289.4,"p":14791},{"t":291.6,"p":14799.6},{"t":294.9,"p":14800},{"t":295.6,"p":14809.7},{"t":299,"p":14809},{"t":301.7,"p":14807},{"t":301.9,"p":14792},{"t":302.9,"p":14789.4},{"t":304.1,"p":14783},{"t":304.9,"p":14783},{"t":306.3,"p":14773.5},{"t":308.3,"p":14773},{"t":310.4,"p":14763},{"t":310.8,"p":14759},{"t":313,"p":14758.7},{"t":314.8,"p":14750.3},{"t":322.6,"p":14750.3},{"t":323,"p":14744.5},{"t":324.1,"p":14738},{"t":325.2,"p":14734},{"t":325.9,"p":14727.8},{"t":326.6,"p":14726.4},{"t":330.7,"p":14726.4},{"t":331.8,"p":14730.7},{"t":332.5,"p":14743},{"t":333.7,"p":14745.7},{"t":337,"p":14746},{"t":338.1,"p":14749},{"t":339.9,"p":14750.3},{"t":343.2,"p":14750.3},{"t":343.6,"p":14748},{"t":347.3,"p":14748},{"t":348,"p":14744.5},{"t":353.6,"p":14744.5}],
"tenkan":[{"t":-5.2,"p":14842},{"t":-1.8,"p":14845},{"t":0.3,"p":14854},{"t":2,"p":14854},{"t":3.3,"p":14849},{"t":5.4,"p":14842.5},{"t":7.5,"p":14837},{"t":8.8,"p":14826},{"t":10.5,"p":14820.5},{"t":12.2,"p":14821},{"t":13.9,"p":14832.5},{"t":15.1,"p":14848},{"t":21.9,"p":14847.5},{"t":23.6,"p":14825},{"t":25.7,"p":14813},{"t":26.1,"p":14803},{"t":27.4,"p":14802},{"t":28.7,"p":14789},{"t":29.1,"p":14778},{"t":30.4,"p":14749},{"t":32.1,"p":14735},{"t":33.8,"p":14724},{"t":35.4,"p":14701},{"t":36.7,"p":14692},{"t":38.4,"p":14692},{"t":40.1,"p":14700},{"t":42.2,"p":14700},{"t":43.5,"p":14703.5},{"t":44.8,"p":14717},{"t":46.4,"p":14719},{"t":49,"p":14730},{"t":50.7,"p":14741.5},{"t":51.5,"p":14759},{"t":54.1,"p":14760},{"t":55.8,"p":14768},{"t":62.1,"p":14770},{"t":63.4,"p":14759},{"t":65.1,"p":14751},{"t":69.3,"p":14731},{"t":70,"p":14721},{"t":72.3,"p":14717},{"t":76.1,"p":14711},{"t":78.6,"p":14694},{"t":80.3,"p":14686},{"t":82.9,"p":14677.5},{"t":84.7,"p":14667},{"t":86.9,"p":14662.5},{"t":90.5,"p":14658},{"t":91.4,"p":14673.5},{"t":92.1,"p":14675.7},{"t":93.2,"p":14677},{"t":96.2,"p":14677.5},{"t":97.3,"p":14686.5},{"t":98.4,"p":14693.8},{"t":100.6,"p":14693.8},{"t":103.9,"p":14694.5},{"t":105.4,"p":14699},{"t":107.6,"p":14699.6},{"t":109.4,"p":14701.7},{"t":113.5,"p":14704},{"t":115.3,"p":14701},{"t":117.5,"p":14701},{"t":126.8,"p":14707},{"t":130.1,"p":14707.5},{"t":134.1,"p":14707},{"t":134.9,"p":14701.7},{"t":136.7,"p":14700},{"t":138.9,"p":14697.4},{"t":141.5,"p":14694.5},{"t":144.8,"p":14689.4},{"t":148.9,"p":14690},{"t":152.6,"p":14693.8},{"t":156.3,"p":14695},{"t":162.5,"p":14698},{"t":171,"p":14702},{"t":174.7,"p":14701},{"t":180.6,"p":14699.6},{"t":182.8,"p":14690},{"t":185,"p":14686.5},{"t":187.2,"p":14672},{"t":190.2,"p":14662.6},{"t":192.4,"p":14655},{"t":198.7,"p":14651.7},{"t":200.5,"p":14648},{"t":202.1,"p":14627},{"t":204.9,"p":14621},{"t":206.4,"p":14598},{"t":208.2,"p":14569},{"t":210.8,"p":14565.5},{"t":212.3,"p":14554},{"t":213.4,"p":14540},{"t":214.9,"p":14540},{"t":217.5,"p":14551.7},{"t":218.2,"p":14558},{"t":219.6,"p":14558},{"t":221.9,"p":14567.7},{"t":224.8,"p":14576.4},{"t":226.3,"p":14580.7},{"t":227.8,"p":14591},{"t":230.7,"p":14592},{"t":233.3,"p":14597},{"t":235.5,"p":14602.5},{"t":239.6,"p":14603},{"t":241.8,"p":14615.5},{"t":243.3,"p":14612.6},{"t":245.5,"p":14602.5},{"t":251.8,"p":14598},{"t":254.3,"p":14601},{"t":255.4,"p":14630},{"t":258,"p":14660.4},{"t":260.2,"p":14669},{"t":263.2,"p":14688},{"t":263.9,"p":14706},{"t":266.1,"p":14711},{"t":267.3,"p":14728.5},{"t":269.1,"p":14738.7},{"t":270.9,"p":14746},{"t":272.8,"p":14756.8},{"t":276.1,"p":14757.5},{"t":277.4,"p":14772},{"t":279.3,"p":14774},{"t":280.2,"p":14799.6},{"t":281.3,"p":14811},{"t":282.7,"p":14811},{"t":283.8,"p":14815.5},{"t":286.1,"p":14817.7},{"t":288.3,"p":14815.5},{"t":288.6,"p":14807.5},{"t":292.3,"p":14807.5},{"t":294.2,"p":14799.6},{"t":296.4,"p":14791},{"t":299.3,"p":14791},{"t":300.8,"p":14779},{"t":303,"p":14770.6},{"t":305.2,"p":14766},{"t":306.3,"p":14756},{"t":308.3,"p":14756},{"t":309.3,"p":14738.7},{"t":310.8,"p":14730},{"t":312.2,"p":14721},{"t":315.2,"p":14721},{"t":316.7,"p":14724},{"t":317.8,"p":14741.6},{"t":319.3,"p":14744.5},{"t":323,"p":14744.8},{"t":326.6,"p":14745.2},{"t":328.9,"p":14743.8},{"t":333.3,"p":14746},{"t":335.5,"p":14747.4},{"t":337.7,"p":14750.3},{"t":339.2,"p":14754.3},{"t":342.5,"p":14754.6},{"t":343.6,"p":14747},{"t":347.7,"p":14743.8},{"t":349.9,"p":14738.7},{"t":353.9,"p":14738.4}],
"signals":[{"k":"down","t":16.2,"p":14860},{"k":"down","t":19.5,"p":14873},{"k":"down","t":21.2,"p":14865.7},{"k":"down","t":59.4,"p":14777.4},{"k":"down","t":62.8,"p":14774.6},{"k":"down","t":114.4,"p":14707.5},{"k":"down","t":134.2,"p":14709.7},{"k":"down","t":145.9,"p":14699.9},{"k":"down","t":156.8,"p":14700.6},{"k":"down","t":184.1,"p":14701},{"k":"down","t":238.5,"p":14625},{"k":"down","t":242.4,"p":14617},{"k":"down","t":246.7,"p":14588},{"k":"down","t":305.7,"p":14742},{"k":"down","t":320.7,"p":14757.5},{"k":"down","t":343.4,"p":14755},{"k":"up","t":15.2,"p":14833},{"k":"up","t":20.4,"p":14832.6},{"k":"up","t":17.9,"p":14843},{"k":"up","t":53.6,"p":14733},{"k":"up","t":60.4,"p":14749},{"k":"up","t":100.2,"p":14687},{"k":"up","t":145.1,"p":14690},{"k":"up","t":155.9,"p":14691},{"k":"up","t":157.7,"p":14686},{"k":"up","t":236.6,"p":14603},{"k":"up","t":241.7,"p":14602.5},{"k":"up","t":245.9,"p":14570},{"k":"up","t":248.3,"p":14515.5},{"k":"up","t":316.5,"p":14740},{"k":"up","t":322.4,"p":14733}],
"boxes":[{"k":"pink","t":269.7,"t2":311,"p":14849.6,"p2":14840.6},{"k":"red","t":134.9,"t2":180.8,"p":14671.3,"p2":14648.2},{"k":"red","t":32.4,"t2":41.2,"p":14681.9,"p2":14659.4},{"k":"red","t":117.4,"t2":127.1,"p":14701.7,"p2":14690.4},{"k":"crimson","t":226.2,"t2":312.3,"p":14534.8,"p2":14507}],
"green":[{"a":"g1","t":38.4,"p":14671.6},{"a":"g1","t":262,"p":14838.7},{"a":"g1h","t":255.5,"p":14843},{"a":"g1h","t":262,"p":14838.7},{"a":"g1h","t":264.3,"p":14837},{"a":"g1s","t":262,"p":14837},{"a":"g1s","t":261.4,"p":14820.6},{"a":"g2","t":124.2,"p":14696.7},{"a":"g2","t":276.8,"p":14836.5},{"a":"g2h","t":269.8,"p":14836},{"a":"g2h","t":276.8,"p":14836.5},{"a":"g2h","t":275.4,"p":14815.5},{"a":"g3","t":254,"p":14518.4},{"a":"g3","t":293.1,"p":14838},{"a":"g3h","t":288.3,"p":14833},{"a":"g3h","t":293.1,"p":14838},{"a":"g3h","t":300.7,"p":14822.7},{"a":"g4","t":195.5,"p":14638.4},{"a":"g4","t":204.9,"p":14522},{"a":"g4h","t":195.7,"p":14535},{"a":"g4h","t":204.9,"p":14522},{"a":"g4t","t":205.7,"p":14520.6},{"a":"g4t","t":211.9,"p":14541.3}],
"black":[{"a":"b1","t":276.8,"p":14840},{"a":"b1","t":277,"p":14815},{"a":"x1","t":25.7,"p":14690.9},{"a":"x1","t":48.8,"p":14651.4},{"a":"x2","t":24.4,"p":14653.5},{"a":"x2","t":47.1,"p":14693.5},{"a":"x3","t":116.8,"p":14719.6},{"a":"x3","t":127.1,"p":14685},{"a":"x4","t":116.3,"p":14681},{"a":"x4","t":125.5,"p":14718}],
"ellipse":[{"t":209.1,"p":14637},{"t":208.1,"p":14641.9},{"t":205.5,"p":14646},{"t":201.4,"p":14648.7},{"t":196.6,"p":14649.8},{"t":191.8,"p":14648.7},{"t":187.7,"p":14646},{"t":185.1,"p":14641.9},{"t":184.1,"p":14637},{"t":185.1,"p":14632.1},{"t":187.7,"p":14628},{"t":191.8,"p":14625.3},{"t":196.6,"p":14624.2},{"t":201.4,"p":14625.3},{"t":205.5,"p":14628},{"t":208.1,"p":14632.1},{"t":209.1,"p":14637}],
"tag":[{"t":381.1,"p":14749.1},{"t":391,"p":14749.1},{"t":391,"p":14732.6},{"t":381.1,"p":14732.6},{"t":380.2,"p":14740.7}],
"connect":[{"a":"hi","t":22.5,"p":14889.3},{"a":"hi","t":18.8,"p":14889.3},{"a":"hi","t":18.8,"p":14887.4},{"a":"lo","t":244,"p":14509},{"a":"lo","t":247.7,"p":14509},{"a":"lo","t":247.7,"p":14513}]
},
"layer":[
{"data":{"name":"cloud"},"transform":[{"filter":"datum.seg!=''&&indexof(datum.seg,'B')==0"},{"calculate":"datum.s=='A'?datum.t:10000-datum.t","as":"ord"}],"mark":{"type":"line","fill":"#9fcfff","stroke":"#9fcfff","strokeWidth":0},"encoding":{"x":{"field":"t","type":"quantitative","scale":{"domain":[-5.2,380],"nice":false,"zero":false},"axis":{"orient":"bottom","title":null,"values":[0,10,20,30,40,50,60,70,80,90,100,110,120,130,140,150,160,170,180,190,200,210,220,230,240,250,260,270,280,290,300,310,320,330,340,350],"labelExpr":"['07','08','09','10','11','12','13','14','15','16','18','19','20','21','22','23','10/23','01','02','03','04','05','06','07','08','09','10','11','12','13','14','15','16','18','19','20'][round(datum.value/10)]","labelAlign":"left","labelPadding":1,"labelFont":"Liberation Sans","labelFontSize":10.5,"labelColor":"#000","labelFontWeight":{"condition":{"test":"datum.value==160","value":"bold"},"value":"normal"},"labelOverlap":false,"labelFlush":false,"grid":true,"gridColor":"#d2d2d2","gridWidth":1.3,"tickColor":"#000","tickSize":4,"domainColor":"#000","domainWidth":1.5,"zindex":0}},"y":{"field":"p","type":"quantitative","scale":{"domain":[14493.04,14905.2],"nice":false,"zero":false},"axis":{"orient":"right","title":null,"values":[14500,14512.5,14525,14537.5,14550,14562.5,14575,14587.5,14600,14612.5,14625,14637.5,14650,14662.5,14675,14687.5,14700,14712.5,14725,14737.5,14750,14762.5,14775,14787.5,14800,14812.5,14825,14837.5,14850,14862.5,14875,14887.5,14900],"labelExpr":"datum.value%50==0?replace(format(datum.value,'.2f'),'.',','):''","labelFont":"Liberation Sans","labelFontSize":10.8,"labelColor":"#000","labelPadding":1,"labelOverlap":false,"labelFlush":false,"grid":true,"gridColor":"#d2d2d2","gridWidth":1.3,"gridOpacity":{"condition":{"test":"datum.value%50==0","value":1},"value":0},"tickColor":"#000","tickSize":5,"domainColor":"#8c8c8c","domainWidth":2.5,"zindex":0}},"detail":{"field":"seg"},"order":{"field":"ord","type":"quantitative"}}},
{"data":{"name":"cloud"},"transform":[{"filter":"datum.seg!=''&&indexof(datum.seg,'O')==0"},{"calculate":"datum.s=='A'?datum.t:10000-datum.t","as":"ord"}],"mark":{"type":"line","fill":"#fdcc9c","stroke":"#fdcc9c","strokeWidth":0},"encoding":{"x":{"field":"t","type":"quantitative"},"y":{"field":"p","type":"quantitative"},"detail":{"field":"seg"},"order":{"field":"ord","type":"quantitative"}}},
{"data":{"name":"candles"},"mark":{"type":"rule","strokeWidth":1},"encoding":{"x":{"field":"t","type":"quantitative"},"y":{"field":"l","type":"quantitative"},"y2":{"field":"h"},"color":{"condition":{"test":"datum.c>=datum.o","value":"#cc3010"},"value":"#1464c4"}}},
{"data":{"name":"candles"},"mark":{"type":"rule","strokeWidth":3},"encoding":{"x":{"field":"t","type":"quantitative"},"y":{"field":"o","type":"quantitative"},"y2":{"field":"c"},"color":{"condition":{"test":"datum.c>=datum.o","value":"#cc3010"},"value":"#1464c4"}}},
{"data":{"name":"tenkan"},"mark":{"type":"line","color":"#ff0000","strokeWidth":1},"encoding":{"x":{"field":"t","type":"quantitative"},"y":{"field":"p","type":"quantitative"}}},
{"data":{"name":"cloud"},"transform":[{"filter":"datum.s=='A'"}],"mark":{"type":"line","color":"#ffb26e","strokeWidth":2.4},"encoding":{"x":{"field":"t","type":"quantitative"},"y":{"field":"p","type":"quantitative"}}},
{"data":{"name":"cloud"},"transform":[{"filter":"datum.s=='B'"}],"mark":{"type":"line","color":"#0a8cf5","strokeWidth":2.4},"encoding":{"x":{"field":"t","type":"quantitative"},"y":{"field":"p","type":"quantitative"}}},
{"data":{"name":"kijun"},"mark":{"type":"line","color":"#000000","strokeWidth":2},"encoding":{"x":{"field":"t","type":"quantitative"},"y":{"field":"p","type":"quantitative"}}},
{"data":{"name":"signals"},"transform":[{"filter":"datum.k=='down'"}],"mark":{"type":"point","filled":true,"color":"#0000ee","opacity":1,"size":220,"shape":"M-0.4,-1 L0.4,-1 L0.4,0 L1,0 L0,1 L-1,0 L-0.4,0 Z"},"encoding":{"x":{"field":"t","type":"quantitative"},"y":{"field":"p","type":"quantitative"}}},
{"data":{"name":"signals"},"transform":[{"filter":"datum.k=='up'"}],"mark":{"type":"point","filled":true,"color":"#ee0000","opacity":1,"size":220,"shape":"M-0.4,1 L0.4,1 L0.4,0 L1,0 L0,-1 L-1,0 L-0.4,0 Z"},"encoding":{"x":{"field":"t","type":"quantitative"},"y":{"field":"p","type":"quantitative"}}},
{"data":{"values":[{"p":14672},{"p":14647}]},"mark":{"type":"rule","color":"#ff0000","strokeWidth":1.6},"encoding":{"y":{"field":"p","type":"quantitative"}}},
{"data":{"values":[{"t":90.6},{"t":160}]},"mark":{"type":"rule","color":"#ff0000","strokeWidth":1},"encoding":{"x":{"field":"t","type":"quantitative"}}},
{"data":{"values":[{"p":14845.2}]},"mark":{"type":"rule","color":"#ff00ff","strokeWidth":5},"encoding":{"y":{"field":"p","type":"quantitative"}}},
{"data":{"values":[{"a":"r","t":160.5,"p":14518.3},{"a":"r","t":382.6,"p":14521.7}]},"mark":{"type":"line","color":"#ed1c24","strokeWidth":4.5,"strokeCap":"round"},"encoding":{"x":{"field":"t","type":"quantitative"},"y":{"field":"p","type":"quantitative"}}},
{"data":{"values":[{"t":22.7,"p":14889.3,"txt":"14,886,00(2023/10/20-08:50)","k":"hi"},{"t":209.6,"p":14509,"txt":"14,514,25(2023/10/23-08:45)","k":"lo"}]},"mark":{"type":"text","align":"left","baseline":"middle","font":"Liberation Sans","fontSize":12},"encoding":{"x":{"field":"t","type":"quantitative"},"y":{"field":"p","type":"quantitative"},"text":{"field":"txt"},"color":{"field":"k","type":"nominal","legend":null,"scale":{"domain":["hi","lo"],"range":["#d2401a","#1464c4"]}}}},
{"data":{"name":"connect"},"mark":{"type":"line","strokeWidth":1},"encoding":{"x":{"field":"t","type":"quantitative"},"y":{"field":"p","type":"quantitative"},"detail":{"field":"a"},"order":{"field":"p","type":"quantitative"},"color":{"condition":{"test":"datum.a=='hi'","value":"#d2401a"},"value":"#1464c4"}}},
{"data":{"name":"boxes"},"mark":{"type":"rect","fillOpacity":0,"strokeWidth":4.5},"encoding":{"x":{"field":"t","type":"quantitative"},"x2":{"field":"t2"},"y":{"field":"p","type":"quantitative"},"y2":{"field":"p2"},"stroke":{"field":"k","type":"nominal","legend":null,"scale":{"domain":["pink","red","crimson"],"range":["#ff00ff","#ff0000","#ed1c24"]}}}},
{"data":{"name":"green"},"transform":[{"window":[{"op":"row_number","as":"ord"}]}],"mark":{"type":"line","color":"#22b14c","strokeWidth":4.5,"strokeCap":"round","strokeJoin":"round"},"encoding":{"x":{"field":"t","type":"quantitative"},"y":{"field":"p","type":"quantitative"},"detail":{"field":"a"},"order":{"field":"ord","type":"quantitative"}}},
{"data":{"name":"black"},"mark":{"type":"line","color":"#000000","strokeWidth":4.5,"strokeCap":"round"},"encoding":{"x":{"field":"t","type":"quantitative"},"y":{"field":"p","type":"quantitative"},"detail":{"field":"a"}}},
{"data":{"name":"ellipse"},"transform":[{"window":[{"op":"row_number","as":"ord"}]}],"mark":{"type":"line","color":"#000000","strokeWidth":4,"interpolate":"cardinal"},"encoding":{"x":{"field":"t","type":"quantitative"},"y":{"field":"p","type":"quantitative"},"order":{"field":"ord","type":"quantitative"}}},
{"data":{"name":"tag"},"transform":[{"window":[{"op":"row_number","as":"ord"}]}],"mark":{"type":"line","fill":"#c82a08","stroke":"#c82a08","strokeWidth":0},"encoding":{"x":{"field":"t","type":"quantitative"},"y":{"field":"p","type":"quantitative"},"order":{"field":"ord","type":"quantitative"}}},
{"data":{"values":[{"t":386,"p":14746,"txt":"14740,50"},{"t":386,"p":14740.4,"txt":"+0,19%"},{"t":386,"p":14735.2,"txt":"▲28,50"}]},"mark":{"type":"text","align":"center","baseline":"middle","color":"#ffffff","font":"Liberation Sans","fontSize":11},"encoding":{"x":{"field":"t","type":"quantitative"},"y":{"field":"p","type":"quantitative"},"text":{"field":"txt"}}},
{"data":{"values":[{"t":380.9,"p":14488.7,"txt":"20:25:00"}]},"mark":{"type":"text","align":"left","baseline":"middle","color":"#000","font":"Liberation Sans","fontSize":10.5},"encoding":{"x":{"field":"t","type":"quantitative"},"y":{"field":"p","type":"quantitative"},"text":{"field":"txt"}}},
{"data":{"values":[{"t":380,"t2":392.5,"p":14493.04},{"t":-5.2,"t2":392.5,"p":14484.9}]},"mark":{"type":"rule"},"encoding":{"x":{"field":"t","type":"quantitative"},"x2":{"field":"t2"},"y":{"field":"p","type":"quantitative"},"color":{"condition":{"test":"datum.p<14490","value":"#a8a8a8"},"value":"#000000"},"strokeWidth":{"condition":{"test":"datum.p<14490","value":3},"value":1.5}}}
]}
